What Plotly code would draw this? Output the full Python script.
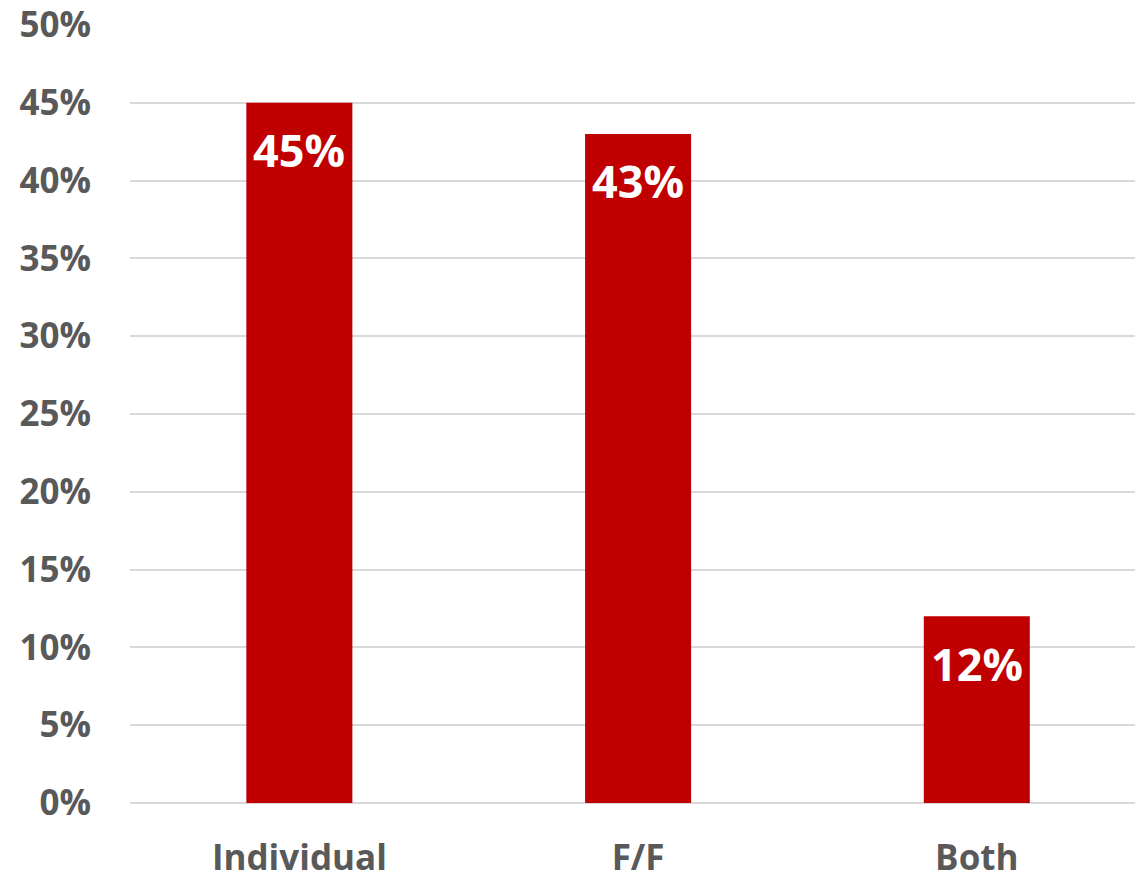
import plotly.graph_objects as go

categories = ["Individual", "F/F", "Both"]
values = [45, 43, 12]
y_ticks = [0, 5, 10, 15, 20, 25, 30, 35, 40, 45, 50]
y_tick_labels = [f"{v}%" for v in y_ticks]

FONT = "Open Sans"
GREY = "#595959"
RED = "#C00000"

fig = go.Figure()
fig.add_trace(go.Bar(
    x=categories, y=values, width=0.313,
    marker=dict(color=RED, line=dict(width=0)),
    hoverinfo="skip",
))

for c, v in zip(categories, values):
    fig.add_annotation(
        x=c, y=v, text=f"{v}%", showarrow=False,
        yanchor="middle", yshift=-47,
        font=dict(family=FONT, size=45, color="white", weight="bold"),
    )

fig.update_layout(
    width=1135, height=877,
    margin=dict(l=130, r=0, t=25, b=74, autoexpand=False),
    paper_bgcolor="white", plot_bgcolor="white",
    showlegend=False,
    font=dict(family=FONT, color=GREY),
)
fig.update_xaxes(
    range=[-0.5, 2.467], showgrid=False, zeroline=False, showline=False,
    automargin=False, ticklabeloverflow="allow",
    tickfont=dict(family=FONT, size=35, color=GREY, weight="bold"),
    ticks="outside", ticklen=24, tickcolor="rgba(0,0,0,0)",
)
fig.update_yaxes(
    range=[0, 50], tickvals=y_ticks, ticktext=y_tick_labels,
    automargin=False, ticklabeloverflow="allow",
    showgrid=True, gridcolor="#D9D9D9", gridwidth=2,
    zeroline=True, zerolinecolor="#D9D9D9", zerolinewidth=2,
    showline=False,
    tickfont=dict(family=FONT, size=35, color=GREY, weight="bold"),
    ticks="outside", ticklen=31, tickcolor="rgba(0,0,0,0)",
)

fig.write_html(
    "out.html",
    config={"displayModeBar": False},
    post_script="document.body.style.margin='0';document.body.style.overflow='hidden';",
)
